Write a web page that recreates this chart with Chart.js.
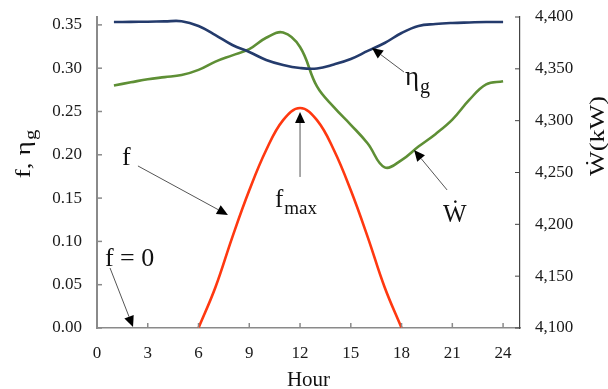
<!DOCTYPE html>
<html>
<head>
<meta charset="utf-8">
<script src="https://cdn.jsdelivr.net/npm/chart.js@4.4.0/dist/chart.umd.min.js"></script>
<style>
  html, body { margin: 0; padding: 0; background: #fff; }
</style>
</head>
<body>
<canvas id="myChart" width="608" height="389"></canvas>
<script>
// hours used by the eta_g and W curves
const hours = [1, 2, 3, 4, 5, 6, 7, 8, 9, 10, 11, 12, 13, 14, 15, 16, 17, 18, 19, 20, 21, 22, 23, 24];

// generator efficiency eta_g (left axis)
const etaG = [0.3533, 0.3535, 0.3537, 0.354, 0.3542, 0.3487, 0.3383, 0.3268, 0.3187, 0.3095, 0.3037, 0.3002,
    0.2997, 0.3043, 0.3106, 0.3199, 0.3291, 0.3406, 0.3487, 0.351, 0.3522, 0.3528, 0.3533, 0.3533];

// power output W in kW (right axis)
const powerW = [4334, 4337, 4340, 4342, 4344, 4349, 4357, 4363, 4369, 4380, 4385, 4371,
    4333, 4313, 4296, 4278, 4255, 4262, 4275, 4287, 4301, 4320, 4335, 4338];

// solar fraction f, only during daylight hours (left axis)
const fHours = [6, 7, 8, 9, 10, 11, 12, 13, 14, 15, 16, 17, 18];
const fValues = [0, 0.047, 0.105, 0.159, 0.2055, 0.240, 0.254, 0.240, 0.2055, 0.159, 0.105, 0.047, 0];

// tick labels
const hourTicks = [0, 3, 6, 9, 12, 15, 18, 21, 24];
const leftTicks = [0, 0.05, 0.10, 0.15, 0.20, 0.25, 0.30, 0.35];
const rightTicks = [4100, 4150, 4200, 4250, 4300, 4350, 4400];

// text notes on the plot, anchored in (hour, left axis) units
const notes = [
    { text: 'f', sub: '', x: 1.48, y: 0.1882, size: 26 },
    { text: 'f = 0', sub: '', x: 0.47, y: 0.0716, size: 26 },
    { text: 'f', sub: 'max', x: 10.52, y: 0.1397, size: 25 },
    { text: '\u03B7', sub: 'g', x: 18.2, y: 0.2806, size: 27 },
    { text: '\u1E86', sub: '', x: 20.45, y: 0.1224, size: 25 }
];

// arrows from the notes to the curves
const arrows = [
    { x1: 2.42, y1: 0.1871, x2: 7.74, y2: 0.1305 },
    { x1: 0.77, y1: 0.0693, x2: 2.13, y2: 0.0012 },
    { x1: 12, y1: 0.1744, x2: 12, y2: 0.2494 },
    { x1: 18.14, y1: 0.2956, x2: 16.25, y2: 0.3233 },
    { x1: 20.69, y1: 0.1594, x2: 18.74, y2: 0.2055 }
];

const serif = '"Liberation Serif", "Times New Roman", serif';
const tickFont = { family: serif, size: 17 };

function toPoints(xs, ys) { return xs.map((x, i) => ({ x: x, y: ys[i] })); }

// fixed scale size, no extra room for the end labels
function fixSize(key, size) {
    return s => {
        s[key] = size;
        s.paddingTop = 0; s.paddingBottom = 0; s.paddingLeft = 0; s.paddingRight = 0;
    };
}

function drawArrow(ctx, x1, y1, x2, y2) {
    const a = Math.atan2(y2 - y1, x2 - x1);
    const L = 11, W = 5;
    const bx = x2 - L * Math.cos(a), by = y2 - L * Math.sin(a);
    ctx.strokeStyle = '#555'; ctx.lineWidth = 1;
    ctx.beginPath(); ctx.moveTo(x1, y1); ctx.lineTo(bx, by); ctx.stroke();
    ctx.fillStyle = '#000';
    ctx.beginPath(); ctx.moveTo(x2, y2);
    ctx.lineTo(bx + W * Math.sin(a), by - W * Math.cos(a));
    ctx.lineTo(bx - W * Math.sin(a), by + W * Math.cos(a));
    ctx.closePath(); ctx.fill();
}

// text with an optional subscript, left aligned at (x, y) baseline
function drawSubText(ctx, text, sub, x, y, size) {
    ctx.font = size + 'px ' + serif;
    ctx.fillText(text, x, y);
    if (sub) {
        const w = ctx.measureText(text).width;
        ctx.font = Math.round(size * 0.75) + 'px ' + serif;
        ctx.fillText(sub, x + w + 1, y + size * 0.28);
    }
}

function subTextWidth(ctx, text, sub, size) {
    ctx.font = size + 'px ' + serif;
    let w = ctx.measureText(text).width;
    if (sub) { ctx.font = Math.round(size * 0.75) + 'px ' + serif; w += ctx.measureText(sub).width + 1; }
    return w;
}

// inward tick marks, notes, arrows and axis titles
const decorPlugin = {
    id: 'decor',
    afterDraw(chart) {
        const ctx = chart.ctx;
        const xs = chart.scales.x, yl = chart.scales.y, yr = chart.scales.y2;
        const area = chart.chartArea;
        ctx.save();

        // tick marks
        ctx.lineWidth = 1.5;
        ctx.strokeStyle = '#8a8a8a';
        hourTicks.forEach(v => {
            const px = xs.getPixelForValue(v);
            ctx.beginPath(); ctx.moveTo(px, area.bottom); ctx.lineTo(px, area.bottom - 5); ctx.stroke();
        });
        leftTicks.forEach(v => {
            const py = yl.getPixelForValue(v);
            ctx.beginPath(); ctx.moveTo(area.left, py); ctx.lineTo(area.left + 5, py); ctx.stroke();
        });
        ctx.strokeStyle = '#444';
        ctx.lineWidth = 1;
        rightTicks.forEach(v => {
            const py = yr.getPixelForValue(v);
            ctx.beginPath(); ctx.moveTo(area.right, py); ctx.lineTo(area.right - 5, py); ctx.stroke();
        });

        // arrows
        arrows.forEach(a => {
            drawArrow(ctx, xs.getPixelForValue(a.x1), yl.getPixelForValue(a.y1),
                xs.getPixelForValue(a.x2), yl.getPixelForValue(a.y2));
        });

        // notes
        ctx.fillStyle = '#111';
        ctx.textAlign = 'left';
        ctx.textBaseline = 'alphabetic';
        notes.forEach(n => {
            drawSubText(ctx, n.text, n.sub, xs.getPixelForValue(n.x), yl.getPixelForValue(n.y), n.size);
        });

        // x axis title
        ctx.font = '21px ' + serif;
        ctx.textAlign = 'center';
        ctx.fillText('Hour', (area.left + area.right) / 2, 386);

        // left axis title
        ctx.save();
        ctx.translate(30, 154);
        ctx.rotate(-Math.PI / 2);
        ctx.scale(1.3, 1);
        ctx.textAlign = 'left';
        let w = subTextWidth(ctx, 'f, \u03B7', 'g', 21);
        drawSubText(ctx, 'f, \u03B7', 'g', -w / 2, 0, 21);
        ctx.restore();

        // right axis title
        ctx.save();
        ctx.translate(604, 136);
        ctx.rotate(-Math.PI / 2);
        ctx.scale(1.25, 1);
        ctx.textAlign = 'left';
        w = subTextWidth(ctx, '\u1E86(kW)', '', 21);
        drawSubText(ctx, '\u1E86(kW)', '', -w / 2, 0, 21);
        ctx.restore();

        ctx.restore();
    }
};

const myChart = new Chart('myChart', {
    type: 'line',
    data: {
        datasets: [
            {
                label: 'eta_g', data: toPoints(hours, etaG), yAxisID: 'y',
                borderColor: '#243b6c', borderWidth: 2.6
            },
            {
                label: 'W', data: toPoints(hours, powerW), yAxisID: 'y2',
                borderColor: '#5e8f35', borderWidth: 2.6
            },
            {
                label: 'f', data: toPoints(fHours, fValues), yAxisID: 'y',
                borderColor: '#ff3810', borderWidth: 2.6
            }
        ]
    },
    options: {
        responsive: false,
        animation: false,
        elements: { point: { radius: 0 }, line: { tension: 0.4 } },
        layout: { padding: { top: 17, left: 0, right: 0, bottom: 0 } },
        plugins: { legend: { display: false }, tooltip: { enabled: false } },
        scales: {
            x: {
                type: 'linear', min: 0, max: 25,
                afterBuildTicks: s => { s.ticks = hourTicks.map(v => ({ value: v })); },
                afterFit: fixSize('height', 61),
                grid: { display: false, drawTicks: false },
                border: { display: true, color: '#8a8a8a', width: 1.5 },
                ticks: { padding: 15, font: tickFont, color: '#1a1a1a' }
            },
            y: {
                position: 'left', min: 0, max: 0.3591,
                afterBuildTicks: s => { s.ticks = leftTicks.map(v => ({ value: v })); },
                afterFit: fixSize('width', 97),
                grid: { display: false, drawTicks: false },
                border: { display: true, color: '#8a8a8a', width: 2 },
                ticks: { padding: 15, font: tickFont, color: '#1a1a1a', callback: v => v.toFixed(2) }
            },
            y2: {
                position: 'right', min: 4100, max: 4400,
                afterBuildTicks: s => { s.ticks = rightTicks.map(v => ({ value: v })); },
                afterFit: fixSize('width', 88),
                grid: { display: false, drawTicks: false },
                border: { display: true, color: '#444', width: 1.2 },
                ticks: { padding: 15, font: tickFont, color: '#1a1a1a', callback: v => v.toLocaleString('en-US') }
            }
        }
    },
    plugins: [decorPlugin]
});
</script>
</body>
</html>
